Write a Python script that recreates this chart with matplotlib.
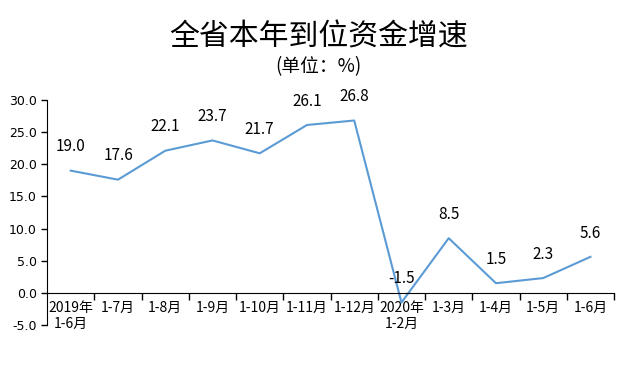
import numpy as np
import matplotlib.pyplot as plt

plt.rcParams['font.family'] = ['Noto Sans CJK SC', 'DejaVu Sans']

periods = ['2019年\n1-6月', '1-7月', '1-8月', '1-9月', '1-10月', '1-11月', '1-12月',
           '2020年\n1-2月', '1-3月', '1-4月', '1-5月', '1-6月']
growth = [19.0, 17.6, 22.1, 23.7, 21.7, 26.1, 26.8, -1.5, 8.5, 1.5, 2.3, 5.6]
yticks = [-5, 0, 5, 10, 15, 20, 25, 30]

fig = plt.figure(figsize=(6.37, 3.66), dpi=100)
ax = fig.add_axes([0.074, 0.112, 0.89, 0.615])

x = np.arange(len(growth))
ax.plot(x, growth, color='#5b9bd5', linewidth=1.5)

# data labels above each point
for i, v in enumerate(growth):
    ax.annotate(f'{v:.1f}', (i, v), xytext=(0, 11), textcoords='offset points',
                ha='center', va='bottom', fontsize=11)

ax.set_xlim(-0.5, len(growth) - 0.5)
ax.set_ylim(-5, 30)
ax.set_yticks(yticks)
ax.set_yticklabels([f'{t:.1f}' for t in yticks], fontsize=9, family='DejaVu Sans')

ax.set_xticks(x)
ax.set_xticklabels(periods, fontsize=8.5, linespacing=1.25)
ax.tick_params(axis='x', which='major', length=0, pad=6)
ax.set_xticks(np.arange(0.5, len(growth), 1), minor=True)
ax.tick_params(axis='x', which='minor', length=5, direction='out', width=1)
ax.tick_params(axis='y', length=4, width=1)

ax.spines['bottom'].set_position(('data', 0))
ax.spines['top'].set_visible(False)
ax.spines['right'].set_visible(False)

fig.text(0.5, 0.9, '全省本年到位资金增速', ha='center', va='center', fontsize=21.5)
fig.text(0.5, 0.818, '(单位：%)', ha='center', va='center', fontsize=13.5)

fig.savefig('out.png', dpi=100)
